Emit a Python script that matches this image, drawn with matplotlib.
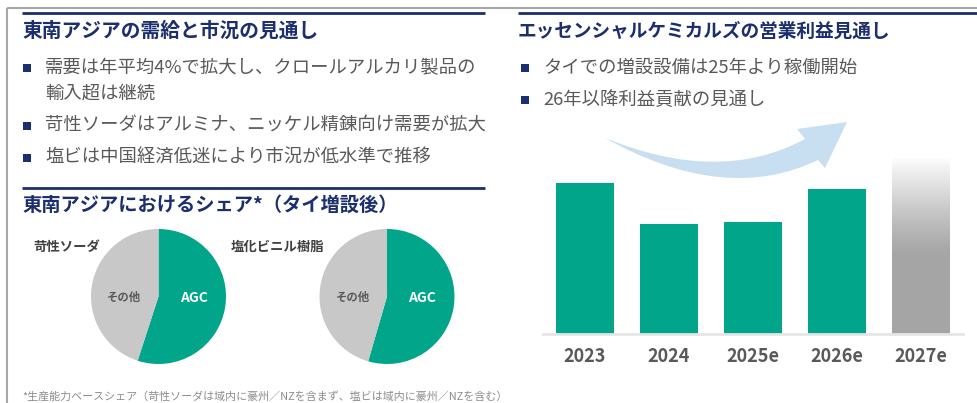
import matplotlib
matplotlib.use("Agg")
import matplotlib.pyplot as plt
import numpy as np
from matplotlib.path import Path
from matplotlib.patches import PathPatch, Rectangle

plt.rcParams['font.family'] = ['Noto Sans CJK JP', 'DejaVu Sans']

# ---------------- data ----------------
title_left = "東南アジアの需給と市況の見通し"
bullets_left = ["需要は年平均4%で拡大し、クロールアルカリ製品の\n輸入超は継続",
                "苛性ソーダはアルミナ、ニッケル精錬向け需要が拡大",
                "塩ビは中国経済低迷により市況が低水準で推移"]
title_share = "東南アジアにおけるシェア*（タイ増設後）"
pie_titles = ["苛性ソーダ", "塩化ビニル樹脂"]
pie_labels = ["AGC", "その他"]
pie_soda = [55, 45]
pie_pvc = [54.5, 45.5]
footnote = "*生産能力ベースシェア（苛性ソーダは域内に豪州／NZを含まず、塩ビは域内に豪州／NZを含む）"

title_right = "エッセンシャルケミカルズの営業利益見通し"
bullets_right = ["タイでの増設設備は25年より稼働開始", "26年以降利益貢献の見通し"]
years = ["2023", "2024", "2025e", "2026e", "2027e"]
profit = [151, 110, 112, 145, 176]   # relative (no axis scale shown)
is_outlook = [False, False, False, False, True]

# ---------------- style ----------------
W, H = 977, 403
NAVY = "#1b2f6e"
TXT = "#595959"
GREEN = "#00a58a"
PIEGRAY = "#c8c8c8"
ARROW = "#c7dff0"

fig = plt.figure(figsize=(W / 100, H / 100), dpi=100)
ov = fig.add_axes([0, 0, 1, 1])
ov.set_xlim(0, W)
ov.set_ylim(H, 0)
ov.axis("off")

def fx(px):
    return px / W

def fy(py):
    return 1 - py / H

# frame lines
ov.plot([7, W], [8, 8], color="#a6a6a6", lw=1.5, solid_capstyle="butt")
ov.plot([7, 7], [8, H], color="#a6a6a6", lw=1.5, solid_capstyle="butt")
# navy rules
ov.plot([22, 485], [13, 13], color=NAVY, lw=2, solid_capstyle="butt")
ov.plot([518, W], [13, 13], color=NAVY, lw=2, solid_capstyle="butt")
ov.plot([22, 485], [188, 188], color=NAVY, lw=2, solid_capstyle="butt")

# titles
ov.text(22, 31, title_left, color=NAVY, fontsize=14.2, fontweight="bold", va="center", ha="left")
ov.text(518, 31, title_right, color=NAVY, fontsize=13.45, fontweight="bold", va="center", ha="left")
ov.text(22, 205, title_share, color=NAVY, fontsize=13.9, fontweight="bold", va="center", ha="left")

def bullet(x, y, text, line_h=25):
    ov.add_patch(Rectangle((x - 4, y - 4), 8, 8, color=NAVY, lw=0))
    lines = text.split("\n")
    for i, ln in enumerate(lines):
        ov.text(x + 18, y + i * line_h, ln, color=TXT, fontsize=13.2, va="center", ha="left")

bullet(27, 68, bullets_left[0])
bullet(27, 126, bullets_left[1])
bullet(27, 158, bullets_left[2])
bullet(525, 68, bullets_right[0])
bullet(525, 100, bullets_right[1])

# pies
def draw_pie(cx, cy, r, vals, title, tx, ty):
    ax = fig.add_axes([fx(cx - r), fy(cy + r), 2 * r / W, 2 * r / H])
    ax.pie(vals, colors=[GREEN, PIEGRAY], startangle=90, counterclock=False,
           radius=1, wedgeprops=dict(linewidth=0))
    ax.set_xlim(-1, 1)
    ax.set_ylim(-1, 1)
    ax.set_aspect("auto")
    ax.axis("off")
    ax.text(0.52, -0.02, pie_labels[0], color="white", fontsize=10, fontweight="bold",
            ha="center", va="center")
    ax.text(-0.51, -0.02, pie_labels[1], color=TXT, fontsize=8.2, fontweight="bold",
            ha="center", va="center")
    ov.text(tx, ty, title, color="#404040", fontsize=9.6, fontweight="bold", ha="left", va="center")

draw_pie(158.5, 296.5, 67.5, pie_soda, pie_titles[0], 33, 247)
draw_pie(387, 296.5, 67.5, pie_pvc, pie_titles[1], 231, 247)

ov.text(22, 396, footnote, color="#8c8c8c", fontsize=7.9, ha="left", va="center")

# bar chart
bx0, bx1, by0, by1 = 543, 963, 150, 334
bax = fig.add_axes([fx(bx0), fy(by1), (bx1 - bx0) / W, (by1 - by0) / H])
bax.set_xlim(-0.5, 4.5)
bax.set_ylim(0, by1 - by0)
bax.axis("off")
x = np.arange(len(years))
bars = bax.bar(x, profit, width=0.68, color=[GREEN if not o else "none" for o in is_outlook],
               edgecolor="none", zorder=2)
for b, o in zip(bars, is_outlook):
    if o:
        x0 = b.get_x()
        h = b.get_height()
        n = 200
        t = np.linspace(0, 1, n)  # 0 bottom -> 1 top
        g = np.where(t < 0.45, 0.65, 0.65 + (0.99 - 0.65) * ((t - 0.45) / 0.55) ** 1.2)
        img = np.repeat(g[:, None], 3, axis=1)[:, None, :]
        img = np.repeat(img, 2, axis=1)
        im = bax.imshow(img, origin="lower", extent=[x0, x0 + b.get_width(), 0, h],
                        aspect="auto", zorder=2, interpolation="bilinear")
        im.set_clip_path(b)
bax.plot([-0.5, 4.5], [0, 0], color="#e6e6e6", lw=2, zorder=3, clip_on=False)
for xi, lab in zip(x, years):
    bax.text(xi, -22, lab, color=TXT, fontsize=13, fontweight="bold", ha="center", va="center",
             clip_on=False)

# curved arrow (decoration)
verts = [(605, 138), (720, 185), (805, 139),
         (797, 129), (847, 122), (825, 168), (818, 160),
         (725, 205), (605, 138), (605, 138)]
codes = [Path.MOVETO, Path.CURVE3, Path.CURVE3,
         Path.LINETO, Path.LINETO, Path.LINETO, Path.LINETO,
         Path.CURVE3, Path.CURVE3, Path.CLOSEPOLY]
ov.add_patch(PathPatch(Path(verts, codes), facecolor=ARROW, edgecolor="none", zorder=1))

fig.savefig("out.png", dpi=100)
